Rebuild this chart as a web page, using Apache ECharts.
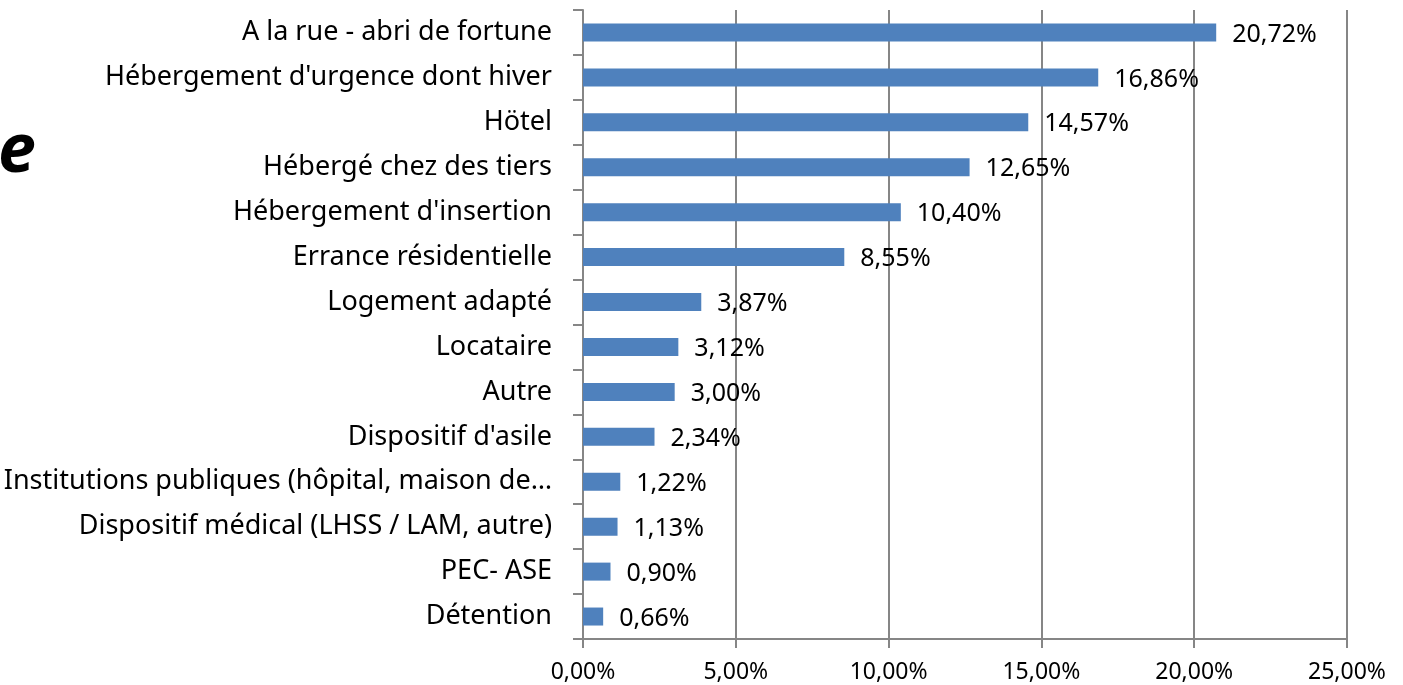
<!DOCTYPE html>
<html>
<head>
<meta charset="utf-8">
<script src="https://cdn.jsdelivr.net/npm/echarts@6/dist/echarts.min.js"></script>
<style>
    html, body { margin: 0; padding: 0; background: #fff; }
    #chart { width: 1403px; height: 685px; }
</style>
</head>
<body>
<div id="chart"></div>
<script>
    // catégories, de bas en haut
    var categories = [
        'Détention',
        'PEC- ASE',
        'Dispositif médical (LHSS / LAM, autre)',
        'Institutions publiques (hôpital, maison de…',
        "Dispositif d'asile",
        'Autre',
        'Locataire',
        'Logement adapté',
        'Errance résidentielle',
        "Hébergement d'insertion",
        'Hébergé chez des tiers',
        'Hötel',
        "Hébergement d'urgence dont hiver",
        'A la rue - abri de fortune'
    ];
    var values = [0.66, 0.90, 1.13, 1.22, 2.34, 3.00, 3.12, 3.87, 8.55, 10.40, 12.65, 14.57, 16.86, 20.72];
    var xTicks = [0, 5, 10, 15, 20, 25];

    var fmt = function (v) {
        return v.toFixed(2).replace('.', ',') + '%';
    };
    var font = '"Noto Sans", sans-serif';

    var option = {
        backgroundColor: '#fff',
        animation: false,
        textStyle: { fontFamily: font },
        graphic: [{
            type: 'text',
            left: -2,
            top: 119,
            style: {
                text: 'e',
                font: 'italic bold 68px "Open Sans", sans-serif',
                fill: '#000'
            }
        }],
        grid: {
            left: 583,
            right: 56,
            top: 10,
            bottom: 46,
            containLabel: false
        },
        xAxis: {
            type: 'value',
            min: xTicks[0],
            max: xTicks[xTicks.length - 1],
            interval: 5,
            axisLine: { show: true, lineStyle: { color: '#868686', width: 2 } },
            axisTick: { show: true, length: 9, lineStyle: { color: '#868686', width: 2 } },
            axisLabel: {
                color: '#000',
                fontSize: 23,
                margin: 22,
                fontFamily: font,
                formatter: fmt
            },
            splitLine: { show: true, lineStyle: { color: '#868686', width: 2 } }
        },
        yAxis: {
            type: 'category',
            data: categories,
            axisLine: { show: true, lineStyle: { color: '#868686', width: 2 } },
            axisTick: { show: true, length: 10, lineStyle: { color: '#868686', width: 2 } },
            axisLabel: {
                color: '#000',
                fontSize: 27,
                margin: 31,
                fontFamily: font
            },
            splitLine: { show: false }
        },
        series: [{
            type: 'bar',
            data: values,
            barWidth: 18,
            itemStyle: { color: '#4F81BD' },
            label: {
                show: true,
                position: 'right',
                distance: 16,
                color: '#000',
                fontSize: 25,
                fontFamily: font,
                offset: [0, 2],
                formatter: function (p) { return fmt(p.value); }
            }
        }]
    };

    var chart = echarts.init(document.getElementById('chart'));
    chart.setOption(option);
</script>
</body>
</html>
